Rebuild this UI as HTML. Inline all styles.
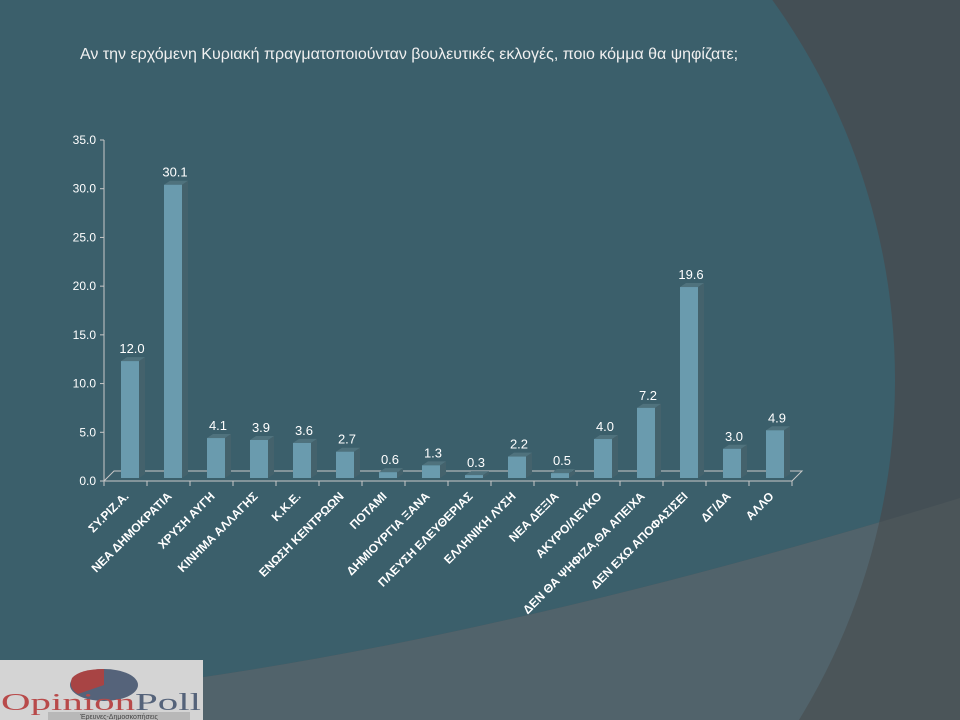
<!DOCTYPE html>
<html><head><meta charset="utf-8"><style>
html,body{margin:0;padding:0;width:960px;height:720px;overflow:hidden;background:#3b5f6b}
svg{display:block;font-family:"Liberation Sans",Arial,sans-serif}
</style></head><body>
<svg id="chart" width="960" height="720" viewBox="0 0 960 720">
<defs><clipPath id="circ"><circle cx="245" cy="380" r="650"/></clipPath></defs>
<rect width="960" height="720" fill="#444f55"/>
<circle cx="245" cy="380" r="650" fill="#3b5f6b"/>
<path d="M0,700 Q400,670 960,498 L960,720 L0,720 Z" fill="#4b5559"/>
<path d="M0,700 Q400,670 960,498 L960,720 L0,720 Z" fill="#51636b" clip-path="url(#circ)"/>
<text x="80" y="59" fill="#f0f0f0" font-size="16">Αν την ερχόμενη Κυριακή πραγματοποιούνταν βουλευτικές εκλογές, ποιο κόμμα θα ψηφίζατε;</text>
<g id="plot"></g>
<g>
<rect x="0" y="660" width="203" height="60" fill="#d4d4d4"/>
<ellipse cx="104" cy="685" rx="34" ry="16" fill="#55637a"/>
<path d="M104,685 L104,669 Q80,669 72,678 Q68,688 78,694 Z" fill="#a84444"/>
<text x="1" y="710" font-family="Liberation Serif,serif" font-size="24" textLength="200" lengthAdjust="spacingAndGlyphs" fill="#b84a4a">Opinion<tspan fill="#55637a">Poll</tspan></text>
<rect x="48" y="712" width="142" height="8" fill="#b8b8b8"/>
<text x="119" y="719" text-anchor="middle" font-size="7" fill="#444">Έρευνες-Δημοσκοπήσεις</text>
</g>
</svg>
<script>
const categories=["ΣΥ.ΡΙΖ.Α.","ΝΕΑ ΔΗΜΟΚΡΑΤΙΑ","ΧΡΥΣΗ ΑΥΓΗ","ΚΙΝΗΜΑ ΑΛΛΑΓΗΣ","Κ.Κ.Ε.","ΕΝΩΣΗ ΚΕΝΤΡΩΩΝ","ΠΟΤΑΜΙ","ΔΗΜΙΟΥΡΓΙΑ ΞΑΝΑ","ΠΛΕΥΣΗ ΕΛΕΥΘΕΡΙΑΣ","ΕΛΛΗΝΙΚΗ ΛΥΣΗ","ΝΕΑ ΔΕΞΙΑ","ΑΚΥΡΟ/ΛΕΥΚΟ","ΔΕΝ ΘΑ ΨΗΦΙΖΑ,ΘΑ ΑΠΕΙΧΑ","ΔΕΝ ΕΧΩ ΑΠΟΦΑΣΙΣΕΙ","ΔΓ/ΔΑ","ΑΛΛΟ"];
const values=[12.0,30.1,4.1,3.9,3.6,2.7,0.6,1.3,0.3,2.2,0.5,4.0,7.2,19.6,3.0,4.9];
const yTicks=[0,5,10,15,20,25,30,35];
const NS="http://www.w3.org/2000/svg";
const g=document.getElementById('plot');
const X0=104,SLOT=43,Y0=481,PX=341/35,DX=10,DY=10;
const y=v=>Y0-v*PX;
const xs=i=>X0+i*SLOT;
function mk(t,a,p){const e=document.createElementNS(NS,t);for(const k in a)e.setAttribute(k,a[k]);(p||g).appendChild(e);return e;}
const N=categories.length;
let fl=mk('path',{d:`M${X0},${Y0} L${X0+DX},${Y0-DY} L${xs(N)+DX},${Y0-DY} L${xs(N)},${Y0} Z`,fill:'none',stroke:'#c8c8c8','stroke-width':1});


let ax=mk('line',{x1:X0,y1:y(35),x2:X0,y2:Y0,stroke:'#c8c8c8'});


yTicks.forEach(t=>{
  mk('line',{x1:X0-4,x2:X0,y1:y(t),y2:y(t),stroke:'#c8c8c8'});
  const tx=mk('text',{x:X0-8,y:y(t)+4,'text-anchor':'end','font-size':12,fill:'#fff'});
  tx.textContent=t.toFixed(1);
  
  
});
for(let i=0;i<=N;i++)mk('line',{x1:xs(i),x2:xs(i),y1:Y0,y2:Y0+5,stroke:'#c8c8c8'});
values.forEach((v,i)=>{
  const bx=xs(i)+17,bw=18,bt=y(v)-3,bb=Y0-3,d=6,u=4;
  const grp=mk('g',{});
  
  
  mk('path',{d:`M${bx+bw},${bt} L${bx+bw+d},${bt-u} L${bx+bw+d},${bb-u} L${bx+bw},${bb} Z`,fill:'#44626c'},grp);
  mk('path',{d:`M${bx},${bt} L${bx+d},${bt-u} L${bx+bw+d},${bt-u} L${bx+bw},${bt} Z`,fill:'#4f727d'},grp);
  mk('rect',{x:bx,y:bt,width:bw,height:bb-bt,fill:'#6a9bae'},grp);
  const lb=mk('text',{x:bx+bw/2+2,y:bt-8,'text-anchor':'middle','font-size':13,fill:'#fff'});
  lb.textContent=v.toFixed(1);
  
  
  const cx=xs(i)+SLOT/2+4,cy=Y0+16;
  const cl=mk('text',{x:cx,y:cy,'text-anchor':'end','font-size':12,'font-weight':'bold',fill:'#fff',transform:`rotate(-45 ${cx} ${cy})`});
  cl.textContent=categories[i];
  
  
});
</script>
</body></html>
